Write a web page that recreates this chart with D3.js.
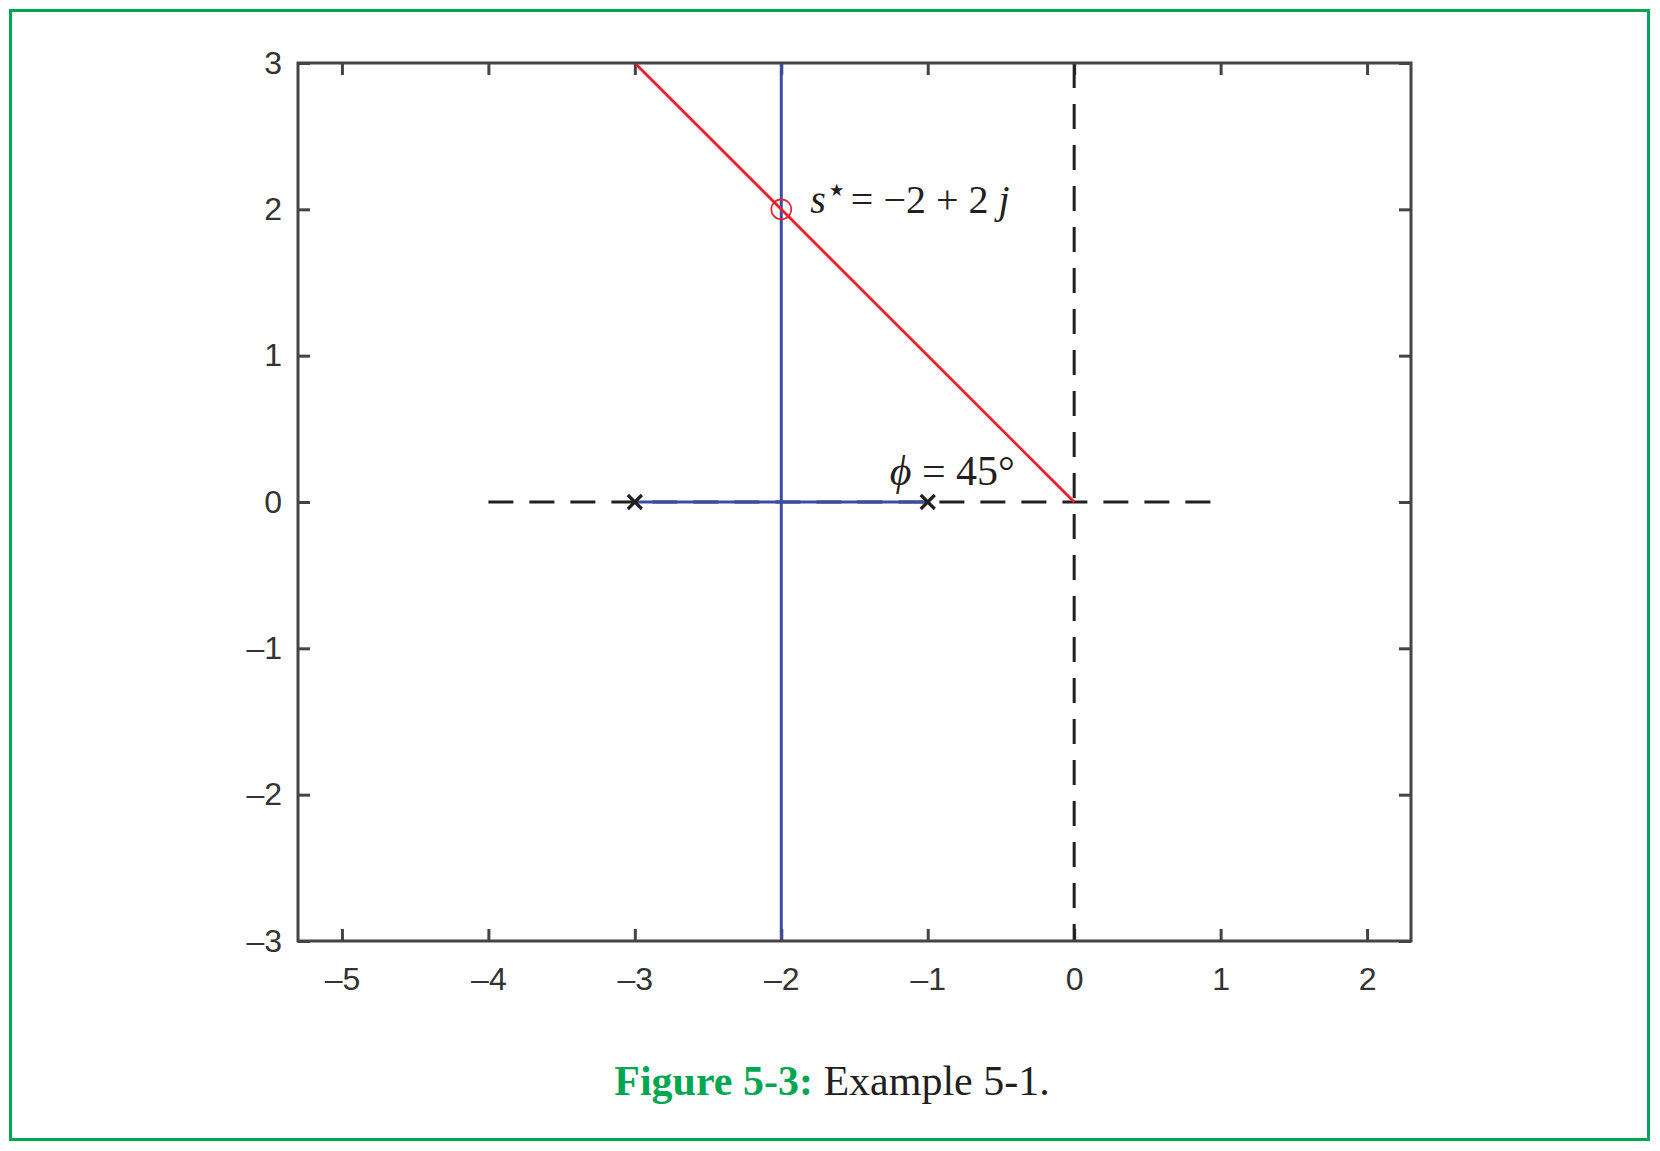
<!DOCTYPE html>
<html>
<head>
<meta charset="utf-8">
<script src="https://cdn.jsdelivr.net/npm/d3@7"></script>
<style>
  body { margin: 0; background: #fff; }
  svg { display: block; }
</style>
</head>
<body>
<svg id="chart"></svg>
<script>
// tick values and labels
const xTicks = [-5, -4, -3, -2, -1, 0, 1, 2];
const xTickLabels = ["\u20135", "\u20134", "\u20133", "\u20132", "\u20131", "0", "1", "2"];
const yTicks = [-3, -2, -1, 0, 1, 2, 3];
const yTickLabels = ["\u20133", "\u20132", "\u20131", "0", "1", "2", "3"];

// geometry of the example
const redLine = [[-3, 3], [0, 0]];
const blueVertical = [[-2, -3], [-2, 3]];
const blueHorizontal = [[-3, 0], [-1, 0]];
const dashedHorizontal = [[-4, 0], [1, 0]];
const dashedVertical = [[0, 3], [0, -3]];
const poles = [[-3, 0], [-1, 0]];
const target = [-2, 2];

const width = 1660;
const height = 1151;
const marginLeft = 298;
const marginRight = 249;
const marginTop = 63;
const marginBottom = 210;

const x = d3.scaleLinear()
    .domain([-5.3, 2.3])
    .range([marginLeft, width - marginRight]);

const y = d3.scaleLinear()
    .domain([-3, 3])
    .range([height - marginBottom, marginTop]);

const svg = d3.select("#chart")
    .attr("width", width)
    .attr("height", height);

// green frame around the figure
svg.append("rect")
    .attr("x", 10.5).attr("y", 10.5)
    .attr("width", 1638).attr("height", 1129)
    .attr("fill", "none")
    .attr("stroke", "#00a651")
    .attr("stroke-width", 3);

const axisColor = "#444";
const tickLen = 12;

function styleAxis(g) {
    g.select(".domain").remove();
    g.selectAll(".tick line").attr("stroke", axisColor).attr("stroke-width", 3);
    g.selectAll(".tick text")
        .attr("fill", "#333")
        .attr("font-family", "'Liberation Sans', Arial, sans-serif")
        .attr("font-size", 32);
}

svg.append("g")
    .attr("transform", `translate(0,${y(-3)})`)
    .call(d3.axisBottom(x).tickValues(xTicks).tickSizeInner(-tickLen).tickSizeOuter(0)
        .tickPadding(26).tickFormat((d, i) => xTickLabels[i]))
    .call(styleAxis);

svg.append("g")
    .attr("transform", `translate(0,${y(3)})`)
    .call(d3.axisTop(x).tickValues(xTicks).tickSizeInner(-tickLen).tickSizeOuter(0).tickFormat(""))
    .call(styleAxis);

svg.append("g")
    .attr("transform", `translate(${x.range()[0]},0)`)
    .call(d3.axisLeft(y).tickValues(yTicks).tickSizeInner(-tickLen).tickSizeOuter(0)
        .tickPadding(16).tickFormat((d, i) => yTickLabels[i]))
    .call(styleAxis);

svg.append("g")
    .attr("transform", `translate(${x.range()[1]},0)`)
    .call(d3.axisRight(y).tickValues(yTicks).tickSizeInner(-tickLen).tickSizeOuter(0).tickFormat(""))
    .call(styleAxis);

const line = d3.line()
    .x(d => x(d[0]))
    .y(d => y(d[1]));

// dashed real / imaginary axes
[dashedHorizontal, dashedVertical].forEach(seg => {
    svg.append("path")
        .attr("d", line(seg))
        .attr("fill", "none")
        .attr("stroke", "#231f20")
        .attr("stroke-width", 3)
        .attr("stroke-dasharray", "25,16");
});

// blue lines
[blueVertical, blueHorizontal].forEach(seg => {
    svg.append("path")
        .attr("d", line(seg))
        .attr("fill", "none")
        .attr("stroke", "#3b4ca6")
        .attr("stroke-width", 3);
});

// red line at 45 degrees
svg.append("path")
    .attr("d", line(redLine))
    .attr("fill", "none")
    .attr("stroke", "#ee1c25")
    .attr("stroke-width", 2.8);

// target point
svg.append("circle")
    .attr("cx", x(target[0]))
    .attr("cy", y(target[1]))
    .attr("r", 10)
    .attr("fill", "none")
    .attr("stroke", "#ee1c25")
    .attr("stroke-width", 1.6);

// poles as crosses
const s = 7;
svg.selectAll(".pole")
    .data(poles)
    .join("path")
    .attr("class", "pole")
    .attr("d", d => {
        const px = x(d[0]), py = y(d[1]);
        return `M${px - s},${py - s}L${px + s},${py + s}M${px - s},${py + s}L${px + s},${py - s}`;
    })
    .attr("stroke", "#231f20")
    .attr("stroke-width", 3.2)
    .attr("fill", "none");

// annotations
const serif = "'Liberation Serif', 'Times New Roman', serif";

const t1 = svg.append("text")
    .attr("x", x(-2) + 29)
    .attr("y", y(2) + 4)
    .attr("font-family", serif)
    .attr("font-size", 40)
    .attr("fill", "#231f20");
t1.append("tspan").attr("font-style", "italic").text("s");
t1.append("tspan").attr("font-size", 34).attr("dy", -12).text("\u22c6");
t1.append("tspan").attr("dy", 12).attr("dx", 4).text("= \u22122 + 2 ");
t1.append("tspan").attr("font-style", "italic").text("j");

const t2 = svg.append("text")
    .attr("x", x(-1.26))
    .attr("y", y(0) - 17)
    .attr("font-family", serif)
    .attr("font-size", 42)
    .attr("fill", "#231f20");
t2.append("tspan").attr("font-style", "italic").text("\u03d5");
t2.append("tspan").text(" = 45\u00b0");

// caption
const cap = svg.append("text")
    .attr("x", 832)
    .attr("y", 1095)
    .attr("text-anchor", "middle")
    .attr("font-family", serif)
    .attr("font-size", 42);
cap.append("tspan").attr("font-weight", "bold").attr("fill", "#00a651").text("Figure 5-3:");
cap.append("tspan").attr("fill", "#231f20").text(" Example 5-1.");

// frame of the axes on top
svg.append("rect")
    .attr("x", x.range()[0])
    .attr("y", y(3))
    .attr("width", x.range()[1] - x.range()[0])
    .attr("height", y(-3) - y(3))
    .attr("fill", "none")
    .attr("stroke", axisColor)
    .attr("stroke-width", 3);
</script>
</body>
</html>
